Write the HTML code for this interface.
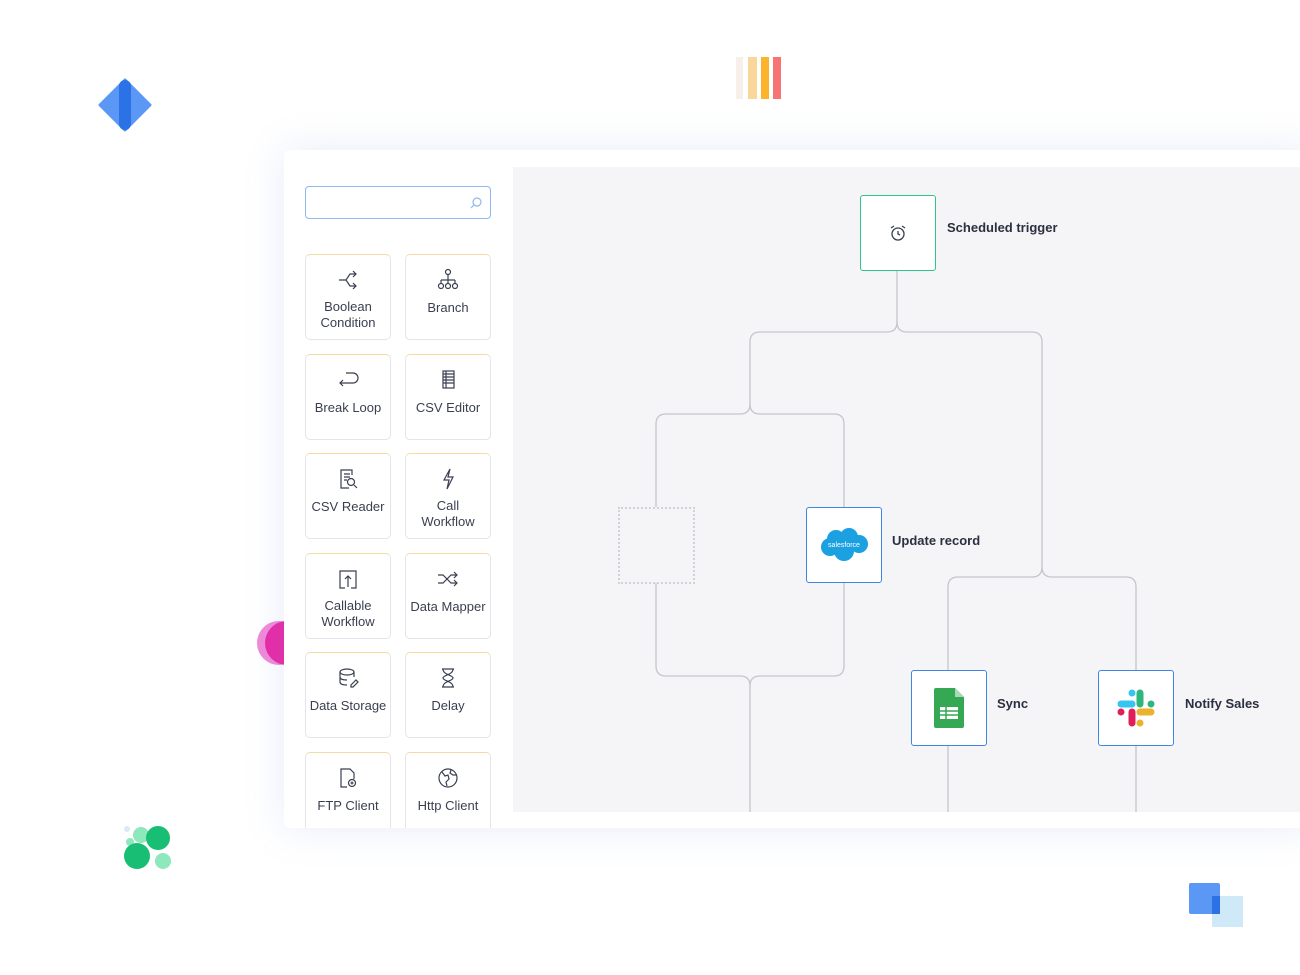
<!DOCTYPE html>
<html><head><meta charset="utf-8"><style>
*{margin:0;padding:0;box-sizing:border-box}
body{width:1300px;height:975px;background:#fff;position:relative;overflow:hidden;font-family:"Liberation Sans",sans-serif}
.abs{position:absolute}
.card{left:284px;top:150px;width:1030px;height:678px;background:#fff;border-radius:6px;box-shadow:0 0 40px rgba(120,150,220,0.18)}
.canvas{left:513px;top:167px;width:800px;height:645px;background:#f5f5f8}
.search{left:305px;top:186px;width:186px;height:33px;border:1px solid #8fb7f0;border-radius:4px;background:#fff}
.tile{width:86px;height:86px;border:1px solid #e4e4ea;border-top-color:#f6dba0;border-radius:5px;background:#fff;text-align:center;font-size:13px;color:#3a3f50;line-height:16px}
.tile svg{display:block;margin:13px auto 7px}
.node{width:76px;height:76px;background:#fff;border:1.5px solid #3d86e6;border-radius:3px;display:flex;align-items:center;justify-content:center}
.lbl{font-size:13px;font-weight:bold;color:#2b2f3f}
</style></head><body>
<svg class="abs" style="left:98px;top:78px" width="56" height="54"><polygon points="27,2 52,27 27,52 2,27" fill="#5b97f5" stroke="#5b97f5" stroke-width="3" stroke-linejoin="round"/><rect x="21" y="2" width="12" height="50" rx="6" fill="#2a72e6"/></svg>
<div class="abs" style="left:736px;top:57px;width:7px;height:42px;background:#f7efe9"></div>
<div class="abs" style="left:748px;top:57px;width:9px;height:42px;background:#f9d69a"></div>
<div class="abs" style="left:761px;top:57px;width:8px;height:42px;background:#fbb42c"></div>
<div class="abs" style="left:773px;top:57px;width:8px;height:42px;background:#f77474"></div>
<svg class="abs" style="left:250px;top:618px" width="40" height="50"><circle cx="29" cy="25" r="22" fill="#f08ad8"/><circle cx="37" cy="25" r="22" fill="#e829a6"/></svg>
<svg class="abs" style="left:118px;top:820px" width="60" height="56"><circle cx="9" cy="9" r="3" fill="#dde8f4"/><circle cx="12" cy="22" r="4" fill="#8de8bb"/><circle cx="23" cy="15" r="8" fill="#8de8bb"/><circle cx="40" cy="18" r="12" fill="#18be74"/><circle cx="19" cy="36" r="13" fill="#18be74"/><circle cx="45" cy="41" r="8" fill="#8de8bb"/></svg>
<div class="abs" style="left:1212px;top:896px;width:31px;height:31px;background:#cfe9f8"></div>
<div class="abs" style="left:1189px;top:883px;width:31px;height:31px;background:#5b97f5;border-radius:2px"></div>
<div class="abs" style="left:1212px;top:896px;width:8px;height:18px;background:#2a72e6"></div>

<div class="abs card"></div>
<div class="abs canvas"></div>
<div class="abs search"><svg class="abs" style="left:163px;top:9px" width="14" height="14"><circle cx="8" cy="6" r="4" fill="none" stroke="#8fb7f0" stroke-width="1.2"/><line x1="5" y1="9" x2="2" y2="12" stroke="#8fb7f0" stroke-width="1.2"/></svg></div>

<div class="abs tile" style="left:305px;top:254px"><svg width="24" height="24" fill="none" stroke="#3a3f50" stroke-width="1.2"><path d="M3 12h7l4-6h6M10 12l4 6h6M17 3l3 3-3 3M17 15l3 3-3 3"/></svg>Boolean<br>Condition</div>
<div class="abs tile" style="left:405px;top:254px"><svg width="24" height="24" fill="none" stroke="#3a3f50" stroke-width="1.2"><circle cx="12" cy="4" r="2.5"/><path d="M12 7v5M5 12h14M5 12v3M12 12v3M19 12v3"/><circle cx="5" cy="18" r="2.5"/><circle cx="12" cy="18" r="2.5"/><circle cx="19" cy="18" r="2.5"/></svg><div style="margin-top:8px">Branch</div></div>
<div class="abs tile" style="left:305px;top:354px"><svg width="24" height="24" fill="none" stroke="#3a3f50" stroke-width="1.2"><path d="M10 5h7a5 5 0 010 10H4M7 12l-3 3 3 3"/></svg><div style="margin-top:8px">Break Loop</div></div>
<div class="abs tile" style="left:405px;top:354px"><svg width="24" height="24" fill="none" stroke="#3a3f50" stroke-width="1.2"><rect x="7" y="3" width="11" height="17"/><path d="M7 6h11M7 9h11M7 12h11M7 15h11M10 3v17"/></svg><div style="margin-top:8px">CSV Editor</div></div>
<div class="abs tile" style="left:305px;top:453px"><svg width="24" height="24" fill="none" stroke="#3a3f50" stroke-width="1.2"><path d="M16 8V3H5v18h8M8 7h6M8 10h6M8 13h3"/><circle cx="15" cy="15" r="3.5"/><path d="M18 18l3 3"/></svg><div style="margin-top:8px">CSV Reader</div></div>
<div class="abs tile" style="left:405px;top:453px"><svg width="24" height="24" fill="none" stroke="#3a3f50" stroke-width="1.2"><path d="M14 2l-6 11h5l-2 9 6-12h-5z"/></svg>Call<br>Workflow</div>
<div class="abs tile" style="left:305px;top:553px"><svg width="24" height="24" fill="none" stroke="#3a3f50" stroke-width="1.2"><path d="M9 21H4V4h16v17h-5M12 20V9M9 12l3-3 3 3"/></svg>Callable<br>Workflow</div>
<div class="abs tile" style="left:405px;top:553px"><svg width="24" height="24" fill="none" stroke="#3a3f50" stroke-width="1.2"><path d="M2 8h5l8 8h6M2 16h5l8-8h6M18 5l3 3-3 3M18 13l3 3-3 3"/></svg><div style="margin-top:8px">Data Mapper</div></div>
<div class="abs tile" style="left:305px;top:652px"><svg width="24" height="24" fill="none" stroke="#3a3f50" stroke-width="1.2"><ellipse cx="11" cy="6" rx="7" ry="3"/><path d="M4 6v10c0 2 3 3 7 3M18 6v5M4 11c0 2 3 3 7 3M15 19l5-5 2 2-5 5h-2z"/></svg><div style="margin-top:8px">Data Storage</div></div>
<div class="abs tile" style="left:405px;top:652px"><svg width="24" height="24" fill="none" stroke="#3a3f50" stroke-width="1.2"><path d="M6 3h12M6 21h12M7 3c0 6 10 6 10 9s-10 3-10 9M17 3c0 6-10 6-10 9s10 3 10 9"/></svg><div style="margin-top:8px">Delay</div></div>
<div class="abs tile" style="left:305px;top:752px;height:76px;border-bottom:none;border-radius:5px 5px 0 0"><svg width="24" height="24" fill="none" stroke="#3a3f50" stroke-width="1.2"><path d="M11 21H5V3h9l4 4v6"/><circle cx="16" cy="17" r="3.5"/><path d="M16 15.5v3M14.5 17h3"/></svg><div style="margin-top:8px">FTP Client</div></div>
<div class="abs tile" style="left:405px;top:752px;height:76px;border-bottom:none;border-radius:5px 5px 0 0"><svg width="24" height="24" fill="none" stroke="#3a3f50" stroke-width="1.2"><circle cx="12" cy="12" r="9"/><path d="M6 6l3 4 3-1 1 4-3 3 1 4M15 4l-1 3 3 2 3 0"/></svg><div style="margin-top:8px">Http Client</div></div>

<svg class="abs" style="left:0;top:0" width="1300" height="975" fill="none" stroke="#c4c6ce" stroke-width="1.3">
<path d="M897 270V322q0 10-10 10H760q-10 0-10 10V404q0 10-10 10H666q-10 0-10 10V507"/>
<path d="M897 322q0 10 10 10H1032q10 0 10 10V567q0 10-10 10H958q-10 0-10 10V671"/>
<path d="M750 404q0 10 10 10H834q10 0 10 10V507"/>
<path d="M1042 567q0 10 10 10H1126q10 0 10 10V671"/>
<path d="M656 583V666q0 10 10 10H740q10 0 10 10V812"/>
<path d="M844 583V666q0 10-10 10H760q-10 0-10 10"/>
<path d="M948 746V812M1136 746V812"/>
</svg>
<div class="abs" style="left:618px;top:507px;width:77px;height:77px;border:2px dotted #d0d2d8"></div>

<div class="abs node" style="left:860px;top:195px;border-color:#2fc48a;border-width:1px"><svg width="20" height="20" fill="none" stroke="#3a3f50" stroke-width="1.3"><circle cx="10" cy="11" r="6"/><path d="M10 8v3l2 1M3 5l3-2M17 5l-3-2"/></svg></div>
<div class="abs lbl" style="left:947px;top:220px">Scheduled trigger</div>
<div class="abs node" style="left:806px;top:507px"><svg width="50" height="36"><g fill="#1ba0e1"><circle cx="17" cy="12" r="9"/><circle cx="30" cy="10" r="9"/><circle cx="40" cy="17" r="9"/><circle cx="11" cy="20" r="9"/><circle cx="25" cy="24" r="10"/></g><text x="25" y="20" font-size="7" fill="#fff" text-anchor="middle" font-family="Liberation Sans">salesforce</text></svg></div>
<div class="abs lbl" style="left:892px;top:533px">Update record</div>
<div class="abs node" style="left:911px;top:670px"><svg width="32" height="42"><path d="M3 1h19l9 9v29a2 2 0 01-2 2H3a2 2 0 01-2-2V3a2 2 0 012-2z" fill="#34a853"/><path d="M22 1l9 9h-9z" fill="#a8d8b4"/><rect x="7" y="20" width="18" height="12" fill="#fff"/><path d="M7 24h18M7 28h18M13 20v12" stroke="#34a853" stroke-width="1.5"/></svg></div>
<div class="abs lbl" style="left:997px;top:696px">Sync</div>
<div class="abs node" style="left:1098px;top:670px"><svg width="40" height="40"><g stroke-linecap="round" stroke-width="7"><path d="M5 16h11" stroke="#36c5f0"/><path d="M16 5v0" stroke="#36c5f0"/><path d="M24 5v11" stroke="#2eb67d"/><path d="M35 16v0" stroke="#2eb67d"/><path d="M24 24h11" stroke="#ecb22e"/><path d="M24 35v0" stroke="#ecb22e"/><path d="M16 24v11" stroke="#e01e5a"/><path d="M5 24v0" stroke="#e01e5a"/></g></svg></div>
<div class="abs lbl" style="left:1185px;top:696px">Notify Sales</div>
</body></html>
